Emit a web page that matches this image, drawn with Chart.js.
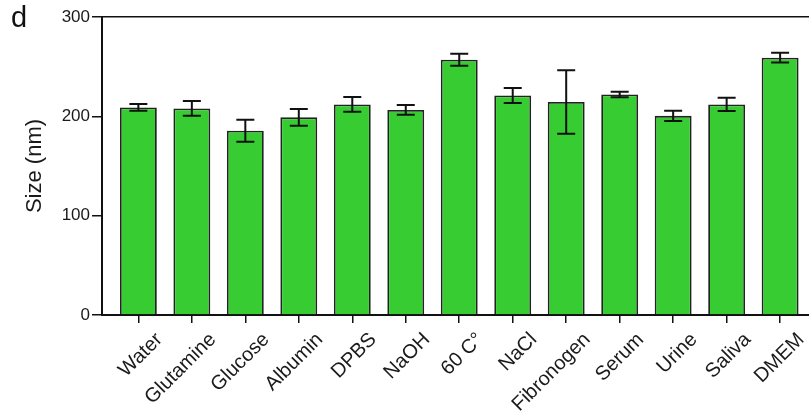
<!DOCTYPE html>
<html>
<head>
<meta charset="utf-8">
<script src="https://cdn.jsdelivr.net/npm/chart.js@4/dist/chart.umd.min.js"></script>
<style>
  html, body { margin: 0; padding: 0; background: #fff; }
  #wrap { position: relative; width: 809px; height: 418px; }
  #panel { position: absolute; left: 11px; top: 1px; font: 29px 'Liberation Sans', Arial, sans-serif; color: #111; }
</style>
</head>
<body>
<div id="wrap">
  <canvas id="sizeChart" width="809" height="418"></canvas>
  <div id="panel">d</div>
</div>
<script>
const categories = ['Water', 'Glutamine', 'Glucose', 'Albumin', 'DPBS', 'NaOH', '60 C°', 'NaCl', 'Fibronogen', 'Serum', 'Urine', 'Saliva', 'DMEM'];
const sizes = [209, 208, 185.5, 199, 212, 206.5, 257, 221, 214.5, 222, 200.5, 212, 259];
const errors = [3.5, 7.5, 11, 8.5, 7.5, 5, 6, 7.5, 32, 2.7, 5.2, 6.7, 4.9];
const yTicks = [0, 100, 200, 300];

Chart.defaults.font.family = "'Liberation Sans', Arial, sans-serif";
Chart.defaults.color = '#1a1a1a';

// error bars drawn with the chart's own scales
const errorBars = {
    id: 'errorBars',
    afterDatasetsDraw(chart) {
        const ctx = chart.ctx;
        const xs = chart.scales.x, ys = chart.scales.y;
        ctx.save();
        ctx.strokeStyle = '#111';
        ctx.lineWidth = 2;
        sizes.forEach((v, i) => {
            const x = xs.getPixelForValue(i);
            const top = ys.getPixelForValue(v + errors[i]);
            const bot = ys.getPixelForValue(v - errors[i]);
            const cap = 9;
            ctx.beginPath();
            ctx.moveTo(x, top); ctx.lineTo(x, bot);
            ctx.moveTo(x - cap, top); ctx.lineTo(x + cap, top);
            ctx.moveTo(x - cap, bot); ctx.lineTo(x + cap, bot);
            ctx.stroke();
        });
        ctx.restore();
    }
};

new Chart(document.getElementById('sizeChart'), {
    type: 'bar',
    data: {
        datasets: [{
            data: sizes.map((v, i) => ({ x: i, y: v })),
            backgroundColor: '#38cc33',
            borderColor: '#222',
            borderWidth: 1.8,
            borderSkipped: 'bottom',
            barPercentage: 0.69,
            categoryPercentage: 1
        }]
    },
    options: {
        responsive: false,
        animation: false,
        layout: { padding: { top: 17, right: 0, left: 0, bottom: 0 } },
        plugins: { legend: { display: false }, tooltip: { enabled: false } },
        scales: {
            x: {
                type: 'linear',
                offset: false,
                min: -0.68,
                max: 12.54,
                afterBuildTicks: axis => { axis.ticks = categories.map((c, i) => ({ value: i })); },
                afterFit: scale => { scale.height = 103; },
                ticks: {
                    callback: v => categories[v],
                    autoSkip: false,
                    maxRotation: 45,
                    minRotation: 45,
                    font: { size: 20 },
                    color: '#1a1a1a',
                    padding: 5,
                    labelOffset: 21
                },
                grid: { display: true, offset: false, drawOnChartArea: false, color: '#111', tickLength: 8, lineWidth: 1.5 },
                border: { color: '#111', width: 2 }
            },
            y: {
                min: 0,
                max: 300,
                afterBuildTicks: axis => { axis.ticks = yTicks.map(v => ({ value: v })); },
                afterFit: scale => { scale.width = 102; },
                ticks: { font: { size: 17 }, color: '#1a1a1a', padding: 2 },
                title: { display: true, text: 'Size (nm)', font: { size: 22 }, color: '#1a1a1a', padding: { top: 22, bottom: 0 } },
                grid: {
                    color: c => c.tick && c.tick.value === 300 ? '#111' : 'rgba(0,0,0,0)',
                    tickColor: '#111',
                    tickLength: 10,
                    lineWidth: 1.5
                },
                border: { color: '#111', width: 2 }
            }
        }
    },
    plugins: [errorBars]
});
</script>
</body>
</html>
